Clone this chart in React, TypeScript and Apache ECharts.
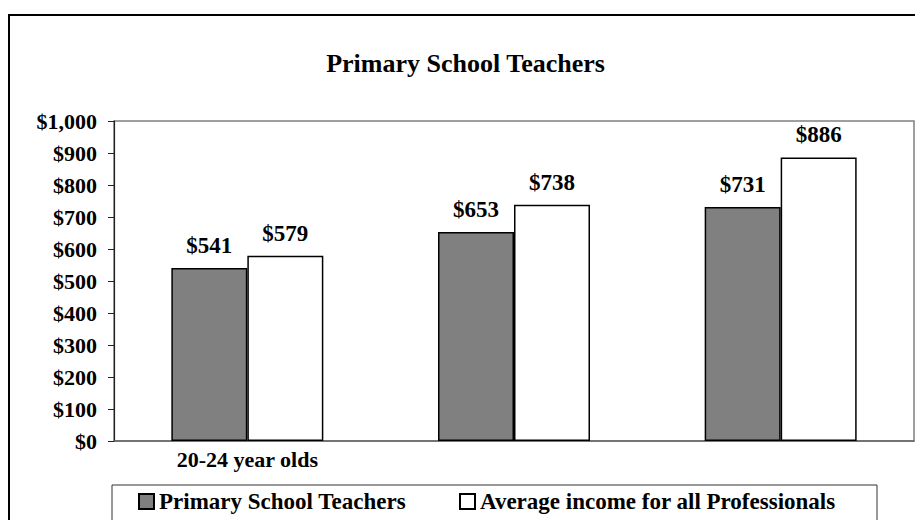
import React, { useEffect, useRef } from "react";
import * as echarts from "echarts";

const categories = ["20-24 year olds", "", ""];
const teachers = [541, 653, 731];
const professionals = [579, 738, 886];
const seriesNames = ["Primary School Teachers", "Average income for all Professionals"];
const titleText = "Primary School Teachers";

const FONT = "'Liberation Serif', 'Times New Roman', serif";

export default function App() {
  const ref = useRef<HTMLDivElement>(null);
  useEffect(() => {
    if (!ref.current) return;
    const chart = echarts.init(ref.current, null, { renderer: "svg" });
    const labelStyle = {
      show: true,
      position: "top" as const,
      distance: 11,
      fontFamily: FONT,
      fontWeight: "bold" as const,
      fontSize: 23,
      color: "#000",
      formatter: (p: any) => "$" + p.value,
    };
    const legendText = { fontFamily: FONT, fontWeight: "bold", fontSize: 23, color: "#000" };
    chart.setOption({
      animation: false,
      backgroundColor: "#fff",
      title: {
        text: titleText,
        left: "center",
        top: 37,
        textStyle: { fontFamily: FONT, fontWeight: "bold", fontSize: 26, color: "#000" },
      },
      grid: {
        left: 106,
        right: 9,
        top: 113,
        bottom: 79,
        show: true,
        borderColor: "#808080",
        borderWidth: 1.5,
        containLabel: false,
      },
      legend: [
        {
          data: [seriesNames[0]],
          left: 125,
          top: 477,
          itemWidth: 15,
          itemHeight: 15,
          icon: "rect",
          textStyle: legendText,
        },
        {
          data: [seriesNames[1]],
          left: 446,
          top: 477,
          itemWidth: 15,
          itemHeight: 15,
          icon: "rect",
          textStyle: legendText,
        },
      ],
      xAxis: {
        type: "category",
        data: categories,
        axisLine: { show: true, lineStyle: { color: "#666", width: 1.5 } },
        axisTick: { show: false },
        axisLabel: {
          margin: 7,
          interval: 0,
          fontFamily: FONT,
          fontWeight: "bold",
          fontSize: 22,
          color: "#000",
        },
      },
      yAxis: {
        type: "value",
        min: 0,
        max: 1000,
        interval: 100,
        splitLine: { show: false },
        axisLine: { show: true, lineStyle: { color: "#222", width: 1.2 } },
        axisTick: { show: true, length: 6, lineStyle: { color: "#222" } },
        axisLabel: {
          margin: 17,
          fontFamily: FONT,
          fontWeight: "bold",
          fontSize: 22,
          color: "#000",
          formatter: (v: number) => "$" + v.toLocaleString("en-US"),
        },
      },
      series: [
        {
          name: seriesNames[0],
          type: "bar",
          data: teachers,
          barGap: "0%",
          barCategoryGap: "43%",
          itemStyle: { color: "#808080", borderColor: "#000", borderWidth: 1.5 },
          label: labelStyle,
        },
        {
          name: seriesNames[1],
          type: "bar",
          data: professionals,
          itemStyle: { color: "#ffffff", borderColor: "#000", borderWidth: 1.5 },
          label: labelStyle,
        },
      ],
      graphic: [
        {
          type: "rect",
          shape: { x: 1, y: 7, width: 2000, height: 2000 },
          style: { fill: "none", stroke: "#000", lineWidth: 2 },
          silent: true,
        },
        {
          type: "rect",
          shape: { x: 104, y: 477, width: 765, height: 100 },
          style: { fill: "none", stroke: "#333", lineWidth: 1 },
          silent: true,
        },
      ],
    });
    return () => chart.dispose();
  }, []);
  return <div ref={ref} style={{ width: 915, height: 512 }} />;
}
